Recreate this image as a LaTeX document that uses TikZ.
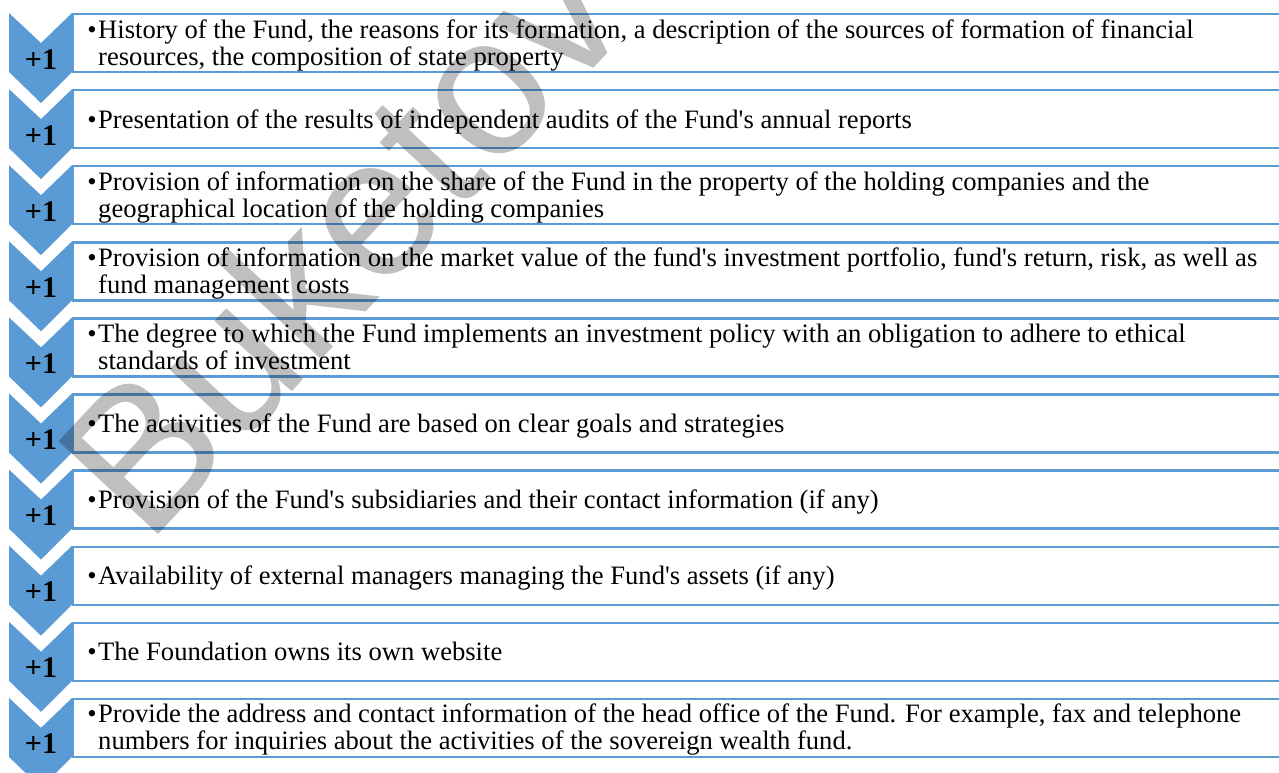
\documentclass[tikz,border=0pt]{standalone}
\usepackage{fontspec}
\setmainfont{Liberation Serif}[Ligatures=TeXOff]
\newfontfamily\wmfont{Liberation Sans}
\definecolor{acc}{RGB}{91,155,213}
\begin{document}
\begin{tikzpicture}[x=1pt,y=-1pt,
  boxst/.style={draw=acc, line width=2.4pt, fill=white, minimum width=1240pt, minimum height=58pt, anchor=north west, inner sep=0pt, outer sep=0pt},
  chev/.style={fill=acc},
  plus/.style={font=\bfseries\fontsize{30}{30}\selectfont, anchor=base, inner sep=0pt},
  txt/.style={font=\fontsize{26.6}{27}\selectfont, anchor=base west, inner sep=0pt},
  wm/.style={font=\wmfont\fontsize{198}{198}\selectfont, text=black, text opacity=0.25, rotate=47, anchor=base west, inner sep=0pt}]
\useasboundingbox (0,0) rectangle (1279,772);
\clip (0,0) rectangle (1279,772);
\foreach \i in {0,...,9}{
  \pgfmathsetmacro\ty{14+76.1*\i}
  \node[boxst] (box\i) at (73,\ty) {};
}
\foreach \i in {0,...,9}{
  \pgfmathsetmacro\ty{14+76.1*\i}
  \fill[chev] (9,\ty-1) -- (41,\ty+29) -- (72,\ty-1) -- (72,\ty+58) -- (41,\ty+89) -- (9,\ty+58) -- cycle;
  \node[plus] (p\i) at (41,\ty+55) {+1};
}
\newcommand\bul{\llap{\textbullet\hspace{1.5pt}}}
\node[txt] (t0a) at (98,38) {\bul History of the Fund, the reasons for its formation, a description of the sources of formation of financial};
\node[txt] (t0b) at (98,65) {resources, the composition of state property};
\node[txt] (t1) at (98,128.1) {\bul Presentation of the results of independent audits of the Fund's annual reports};
\node[txt] (t2a) at (98,190.2) {\bul Provision of information on the share of the Fund in the property of the holding companies and the};
\node[txt] (t2b) at (98,217.2) {geographical location of the holding companies};
\node[txt] (t3a) at (98,266.3) {\bul Provision of information on the market value of the fund's investment portfolio, fund's return, risk, as well as};
\node[txt] (t3b) at (98,293.3) {fund management costs};
\node[txt] (t4a) at (98,342.4) {\bul The degree to which the Fund implements an investment policy with an obligation to adhere to ethical};
\node[txt] (t4b) at (98,369.4) {standards of investment};
\node[txt] (t5) at (98,432.5) {\bul The activities of the Fund are based on clear goals and strategies};
\node[txt] (t6) at (98,508.6) {\bul Provision of the Fund's subsidiaries and their contact information (if any)};
\node[txt] (t7) at (98,584.7) {\bul Availability of external managers managing the Fund's assets (if any)};
\node[txt] (t8) at (98,660.8) {\bul The Foundation owns its own website};
\node[txt] (t9a) at (98,722.9) {\bul Provide the address and contact information of the head office of the Fund. For example, fax and telephone};
\node[txt] (t9b) at (98,749.9) {numbers for inquiries about the activities of the sovereign wealth fund.};
\node[wm] (wm) at (147,547) {Buketov};
\end{tikzpicture}
\end{document}
